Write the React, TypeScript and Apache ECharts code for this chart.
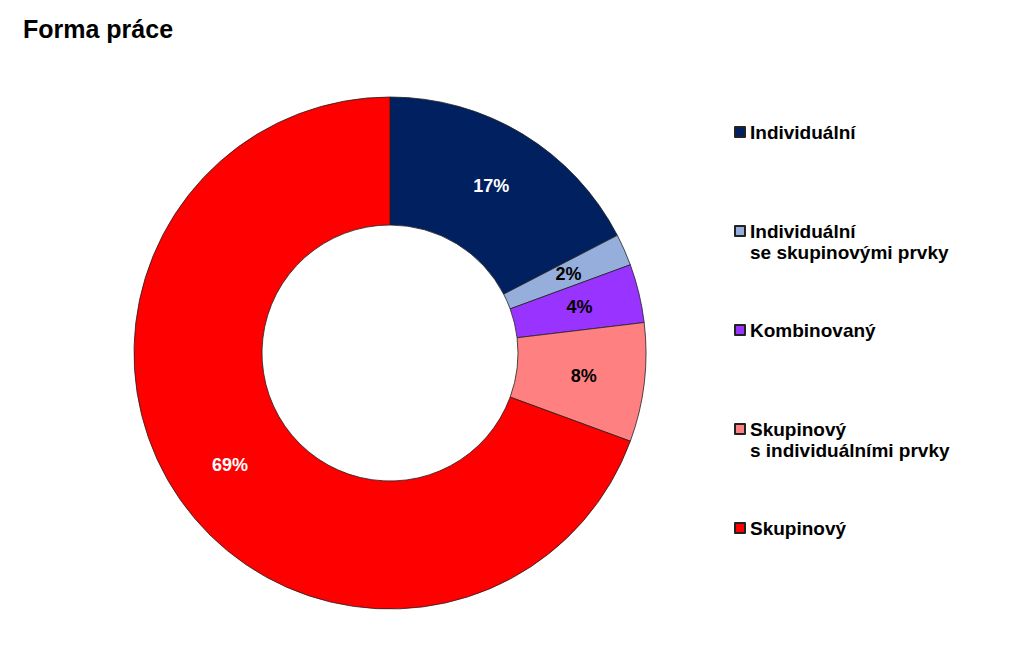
import { useEffect, useRef } from 'react'
import * as echarts from 'echarts'

const categories = [
  'Individuální',
  'Individuální\nse skupinovými prvky',
  'Kombinovaný',
  'Skupinový\ns individuálními prvky',
  'Skupinový',
]
const shares = [17.4, 2.0, 3.7, 7.5, 69.4]
const colors = ['#002060', '#95AEDC', '#9933FF', '#FF8080', '#FF0000']
const labelColors = ['#FFFFFF', '#000000', '#000000', '#000000', '#FFFFFF']
const legendCentres = [132, 231, 330, 429, 528]

const App = () => {
  const chartRef = useRef<HTMLDivElement | null>(null)

  useEffect(() => {
    if (!chartRef.current) return
    const chart = echarts.init(chartRef.current, null, { renderer: 'svg' })
    const lineH = 21

    // одна легенда на пункт, чтобы символ стоял у первой строки
    const legends = categories.map((name, i) => {
      const lines = name.split('\n').length
      const shown = lines > 1 ? '\n' + name : name
      const total = lines > 1 ? lines + 1 : 1
      return {
        data: [{ name, icon: 'rect' }],
        orient: 'vertical',
        left: 734,
        top: legendCentres[i] - (total * lineH) / 2,
        itemWidth: 10,
        itemHeight: 10,
        padding: 0,
        formatter: () => shown,
        selectedMode: false,
        textStyle: {
          fontFamily: 'Liberation Sans, Arial, sans-serif',
          fontWeight: 'bold',
          fontSize: 19,
          lineHeight: lineH,
          color: '#000000',
        },
      }
    })

    chart.setOption({
      animation: false,
      backgroundColor: '#FFFFFF',
      title: {
        text: 'Forma práce',
        left: 18,
        top: 11,
        textStyle: {
          fontFamily: 'Liberation Sans, Arial, sans-serif',
          fontWeight: 'bold',
          fontSize: 25,
          color: '#000000',
        },
      },
      legend: legends,
      series: [
        {
          type: 'pie',
          center: [390, 353],
          radius: [128, 256],
          startAngle: 90,
          clockwise: true,
          avoidLabelOverlap: false,
          label: {
            show: true,
            position: 'inside',
            fontFamily: 'Liberation Sans, Arial, sans-serif',
            fontWeight: 'bold',
            fontSize: 18,
            formatter: (p: any) => Math.round(p.percent) + '%',
          },
          labelLine: { show: false },
          emphasis: { disabled: true },
          data: categories.map((name, i) => ({
            name,
            value: shares[i],
            itemStyle: { color: colors[i], borderColor: '#222222', borderWidth: 0.8 },
            label: { color: labelColors[i] },
          })),
        },
      ],
    })

    return () => {
      chart.dispose()
    }
  }, [])

  return (
    <div
      ref={chartRef}
      style={{ position: 'absolute', left: 0, top: 0, width: 1024, height: 664 }}
    />
  )
}

export default App
